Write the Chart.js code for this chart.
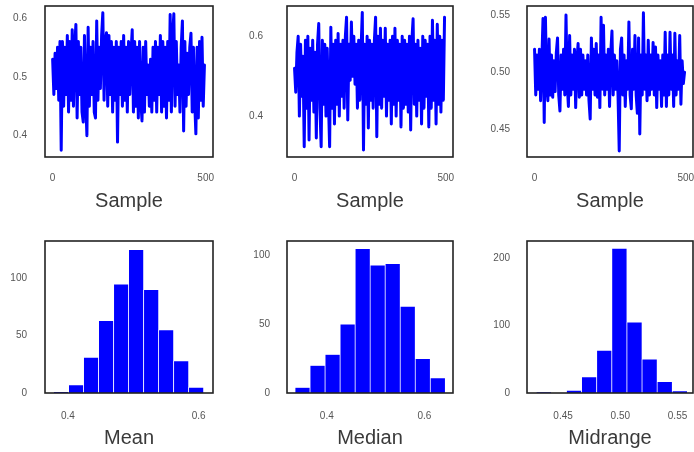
<!DOCTYPE html>
<html>
<head>
<meta charset="utf-8">
<script src="https://cdn.jsdelivr.net/npm/chart.js@4/dist/chart.umd.min.js"></script>
<style>
  html, body { margin: 0; padding: 0; background: #fff; width: 694px; height: 452px; overflow: hidden; }
  canvas { position: absolute; }
</style>
</head>
<body>
<canvas id="c1"></canvas>
<canvas id="c2"></canvas>
<canvas id="c3"></canvas>
<canvas id="c4"></canvas>
<canvas id="c5"></canvas>
<canvas id="c6"></canvas>
<script>
// ---------- DATA ----------
// Sample positions (every 4th of 500 samples)
const sampleStep = 4;
const meanSeries = [0.53,0.47,0.54,0.48,0.55,0.46,0.56,0.375,0.56,0.45,0.55,0.47,0.57,0.44,0.56,0.46,0.58,0.45,0.55,0.589,
0.43,0.56,0.47,0.55,0.44,0.423,0.57,0.46,0.40,0.584,0.45,0.55,0.47,0.56,0.44,0.43,0.595,0.46,0.55,0.48,
0.57,0.609,0.46,0.56,0.575,0.45,0.57,0.47,0.56,0.44,0.55,0.46,0.56,0.389,0.55,0.47,0.56,0.45,0.57,0.46,
0.55,0.44,0.56,0.47,0.54,0.58,0.44,0.56,0.45,0.55,0.43,0.56,0.46,0.425,0.55,0.44,0.56,0.47,0.52,0.45,
0.53,0.44,0.55,0.46,0.56,0.44,0.55,0.47,0.57,0.44,0.56,0.45,0.55,0.43,0.56,0.46,0.606,0.44,0.57,0.607,
0.45,0.56,0.47,0.52,0.44,0.55,0.595,0.408,0.56,0.45,0.54,0.47,0.55,0.574,0.44,0.55,0.46,0.403,0.55,0.43,
0.56,0.46,0.567,0.45,0.52];
const medianSeries = [0.52,0.46,0.56,0.60,0.40,0.58,0.45,0.55,0.323,0.59,0.42,0.60,0.34,0.57,0.44,0.59,0.41,0.56,0.345,0.58,
0.632,0.42,0.323,0.59,0.43,0.58,0.40,0.57,0.44,0.323,0.623,0.42,0.58,0.38,0.59,0.43,0.607,0.40,0.58,0.45,
0.59,0.42,0.60,0.648,0.39,0.58,0.49,0.636,0.50,0.60,0.48,0.58,0.42,0.59,0.44,0.57,0.66,0.315,0.58,0.43,
0.60,0.37,0.59,0.44,0.58,0.42,0.59,0.648,0.348,0.60,0.43,0.62,0.42,0.59,0.45,0.62,0.40,0.58,0.44,0.59,
0.38,0.60,0.43,0.62,0.40,0.59,0.44,0.58,0.373,0.60,0.42,0.59,0.43,0.58,0.41,0.60,0.365,0.59,0.644,0.43,
0.58,0.40,0.59,0.44,0.57,0.38,0.60,0.42,0.59,0.45,0.58,0.373,0.60,0.42,0.64,0.44,0.59,0.38,0.63,0.43,
0.60,0.41,0.59,0.44,0.648];
const midrangeSeries = [0.52,0.48,0.515,0.485,0.52,0.475,0.51,0.547,0.456,0.548,0.49,0.475,0.529,0.48,0.515,0.478,0.51,0.483,0.517,0.53,
0.48,0.466,0.515,0.485,0.52,0.48,0.55,0.49,0.47,0.532,0.48,0.515,0.485,0.52,0.469,0.51,0.525,0.478,0.52,0.48,
0.515,0.485,0.51,0.48,0.515,0.475,0.459,0.53,0.485,0.52,0.48,0.525,0.478,0.515,0.469,0.548,0.485,0.541,0.48,0.515,
0.485,0.52,0.47,0.517,0.536,0.48,0.515,0.485,0.51,0.48,0.431,0.52,0.53,0.48,0.515,0.47,0.51,0.485,0.544,0.48,
0.468,0.52,0.485,0.532,0.48,0.464,0.53,0.446,0.515,0.48,0.552,0.485,0.515,0.475,0.528,0.48,0.515,0.485,0.526,0.48,
0.522,0.469,0.515,0.485,0.51,0.47,0.515,0.48,0.535,0.47,0.515,0.48,0.535,0.485,0.515,0.47,0.534,0.48,0.51,0.485,
0.532,0.472,0.51,0.49,0.50];

// Histograms: bin centres and counts
const meanBins = [0.3896,0.4126,0.4355,0.4585,0.4815,0.5044,0.5274,0.5503,0.5733,0.5962];
const meanCounts = [1,7,31,63,95,125,90,55,28,5];
const medianBins = [0.3503,0.3811,0.4119,0.4427,0.4735,0.5042,0.5350,0.5658,0.5966,0.6274];
const medianCounts = [4,20,28,50,105,93,94,63,25,11];
const midrangeBins = [0.4332,0.4464,0.4596,0.4728,0.4860,0.4992,0.5124,0.5256,0.5388,0.5520];
const midrangeCounts = [1,0,4,24,63,214,105,50,17,3];

// Tick labels
const sampleTicks = [0, 500];
const sampleTickLabels = ['0', '500'];
const meanYTicks = [0.4, 0.5, 0.6];
const meanYTickLabels = ['0.4', '0.5', '0.6'];
const medianYTicks = [0.4, 0.6];
const medianYTickLabels = ['0.4', '0.6'];
const midrangeYTicks = [0.45, 0.50, 0.55];
const midrangeYTickLabels = ['0.45', '0.50', '0.55'];
const meanXTicks = [0.4, 0.6];
const meanXTickLabels = ['0.4', '0.6'];
const medianXTicks = [0.4, 0.6];
const medianXTickLabels = ['0.4', '0.6'];
const midrangeXTicks = [0.45, 0.50, 0.55];
const midrangeXTickLabels = ['0.45', '0.50', '0.55'];
const meanCountTicks = [0, 50, 100];
const medianCountTicks = [0, 50, 100];
const midrangeCountTicks = [0, 100, 200];
const titles = ['Sample', 'Sample', 'Sample', 'Mean', 'Median', 'Midrange'];

// ---------- RENDERING ----------
const BLUE = '#0000ff';
const TICK_COLOR = '#555555';
const TITLE_COLOR = '#3a3a3a';
const FONT = '"Liberation Sans", Arial, sans-serif';

const framePlugin = {
  id: 'frame',
  afterDraw(chart) {
    const { ctx, chartArea: a } = chart;
    ctx.save();
    ctx.strokeStyle = '#222';
    ctx.lineWidth = 1.6;
    ctx.strokeRect(a.left, a.top, a.right - a.left, a.bottom - a.top);
    ctx.restore();
  }
};

function setupCanvas(id, left, top, w, h) {
  const c = document.getElementById(id);
  c.width = w; c.height = h;
  c.style.left = left + 'px'; c.style.top = top + 'px';
  c.style.width = w + 'px'; c.style.height = h + 'px';
  return c;
}

function tickSetter(values, labels) {
  return {
    afterBuildTicks: (s) => { s.ticks = values.map(v => ({ value: v })); },
    callback: (v, i) => labels[i]
  };
}

function makeChart(p) {
  const canvasW = p.frameRight - p.canvasLeft + 6;
  const canvas = setupCanvas(p.id, p.canvasLeft, p.canvasTop, canvasW, p.canvasH);
  const xt = tickSetter(p.xTicks, p.xLabels);
  const yt = tickSetter(p.yTicks, p.yLabels);
  const xAxisH = p.canvasH - (p.frameBottom - p.canvasTop);
  const yAxisW = p.frameLeft - p.canvasLeft;
  const isBar = p.type === 'bar';
  const dataset = isBar ? {
      data: p.xs.map((x, i) => ({ x: x, y: p.ys[i] })),
      backgroundColor: BLUE,
      borderColor: '#ffffff',
      borderWidth: 0.7,
      borderSkipped: 'start',
      barPercentage: 1,
      categoryPercentage: 1
    } : {
      data: p.ys.map((y, i) => ({ x: i * sampleStep, y: y })),
      borderColor: BLUE,
      borderWidth: 3,
      borderJoinStyle: 'round',
      borderCapStyle: 'round',
      pointRadius: 0,
      tension: 0,
      fill: false
    };
  return new Chart(canvas, {
    type: p.type,
    data: { datasets: [dataset] },
    options: {
      responsive: false,
      animation: false,
      devicePixelRatio: 1,
      layout: { padding: { top: p.frameTop - p.canvasTop, right: 6, left: 0, bottom: 0 } },
      plugins: { legend: { display: false }, tooltip: { enabled: false } },
      scales: {
        x: {
          type: 'linear',
          offset: false,
          min: p.xMin, max: p.xMax,
          grid: { display: false, drawTicks: true, tickLength: p.xTickPad, tickColor: 'rgba(0,0,0,0)' },
          border: { display: false },
          afterBuildTicks: xt.afterBuildTicks,
          afterFit: (s) => { s.height = xAxisH; },
          ticks: {
            callback: xt.callback, color: TICK_COLOR, padding: 0,
            font: { family: FONT, size: 10 }, maxRotation: 0, autoSkip: false
          },
          title: {
            display: true, text: p.title, color: TITLE_COLOR,
            font: { family: FONT, size: 20, lineHeight: 1.2 },
            padding: { top: 0, bottom: 2 }
          }
        },
        y: {
          type: 'linear',
          min: p.yMin, max: p.yMax,
          grid: { display: false, drawTicks: true, tickLength: p.yTickPad, tickColor: 'rgba(0,0,0,0)' },
          border: { display: false },
          afterBuildTicks: yt.afterBuildTicks,
          afterFit: (s) => { s.width = yAxisW; },
          ticks: {
            callback: yt.callback, color: TICK_COLOR, padding: 0,
            font: { family: FONT, size: 10 }, autoSkip: false
          }
        }
      }
    },
    plugins: [framePlugin]
  });
}

const topRow = { canvasTop: 0, canvasH: 215, frameTop: 6, frameBottom: 157, xTickPad: 15.5 };
const botRow = { canvasTop: 226, canvasH: 226, frameTop: 241, frameBottom: 393, xTickPad: 17.5 };

makeChart(Object.assign({}, topRow, {
  id: 'c1', type: 'line', canvasLeft: 0, frameLeft: 45, frameRight: 213,
  ys: meanSeries, xMin: -24.95, xMax: 523.95, yMin: 0.3637, yMax: 0.6203,
  xTicks: sampleTicks, xLabels: sampleTickLabels, yTicks: meanYTicks, yLabels: meanYTickLabels,
  yTickPad: 18, title: titles[0]
}));
makeChart(Object.assign({}, topRow, {
  id: 'c2', type: 'line', canvasLeft: 232, frameLeft: 287, frameRight: 453,
  ys: medianSeries, xMin: -24.95, xMax: 523.95, yMin: 0.2975, yMax: 0.676,
  xTicks: sampleTicks, xLabels: sampleTickLabels, yTicks: medianYTicks, yLabels: medianYTickLabels,
  yTickPad: 24, title: titles[1]
}));
makeChart(Object.assign({}, topRow, {
  id: 'c3', type: 'line', canvasLeft: 470, frameLeft: 527, frameRight: 693,
  ys: midrangeSeries, xMin: -24.95, xMax: 523.95, yMin: 0.4258, yMax: 0.5579,
  xTicks: sampleTicks, xLabels: sampleTickLabels, yTicks: midrangeYTicks, yLabels: midrangeYTickLabels,
  yTickPad: 17, title: titles[2]
}));
makeChart(Object.assign({}, botRow, {
  id: 'c4', type: 'bar', canvasLeft: 0, frameLeft: 45, frameRight: 213,
  xs: meanBins, ys: meanCounts, xMin: 0.365, xMax: 0.622, yMin: 0, yMax: 132.5,
  xTicks: meanXTicks, xLabels: meanXTickLabels, yTicks: meanCountTicks, yLabels: meanCountTicks.map(String),
  yTickPad: 18, title: titles[3]
}));
makeChart(Object.assign({}, botRow, {
  id: 'c5', type: 'bar', canvasLeft: 232, frameLeft: 287, frameRight: 453,
  xs: medianBins, ys: medianCounts, xMin: 0.3185, xMax: 0.6585, yMin: 0, yMax: 110.5,
  xTicks: medianXTicks, xLabels: medianXTickLabels, yTicks: medianCountTicks, yLabels: medianCountTicks.map(String),
  yTickPad: 17, title: titles[4]
}));
makeChart(Object.assign({}, botRow, {
  id: 'c6', type: 'bar', canvasLeft: 470, frameLeft: 527, frameRight: 693,
  xs: midrangeBins, ys: midrangeCounts, xMin: 0.4185, xMax: 0.5635, yMin: 0, yMax: 225,
  xTicks: midrangeXTicks, xLabels: midrangeXTickLabels, yTicks: midrangeCountTicks, yLabels: midrangeCountTicks.map(String),
  yTickPad: 17, title: titles[5]
}));
</script>
</body>
</html>
